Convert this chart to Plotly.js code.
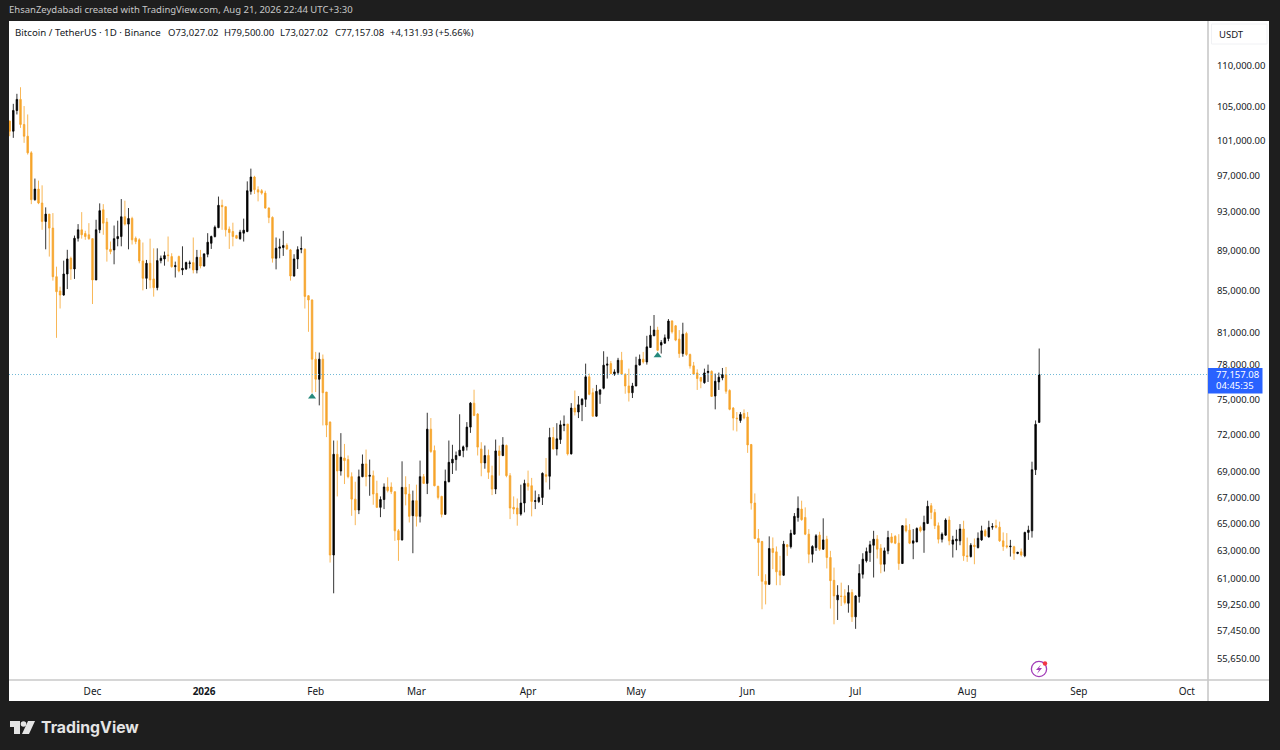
<!DOCTYPE html>
<html>
<head>
<meta charset="utf-8">
<script src="https://cdn.plot.ly/plotly-3.0.1.min.js"></script>
<style>
  html, body { margin: 0; padding: 0; background: #1e1e1e; overflow: hidden; }
  #chart { position: absolute; left: 0; top: 0; width: 1280px; height: 750px; }
  svg.over { position: absolute; left: 0; top: 0; pointer-events: none; }
</style>
</head>
<body>
<div id="chart"></div>
<svg class="over" width="1280" height="750">
  <!-- logo -->
  <path d="M10 721H20V734H14V727H10Z" fill="#e4e4e4"/>
  <circle cx="23.5" cy="724" r="2.8" fill="#e4e4e4"/>
  <path d="M28 721H35L29 734H22Z" fill="#e4e4e4"/>
  <!-- flash icon -->
  <circle cx="1039" cy="669" r="7.6" fill="none" stroke="#a23db8" stroke-width="1.3"/>
  <path d="M1041 664.5L1036 670H1039L1037 674L1042 668H1039Z" fill="#a23db8"/>
  <circle cx="1045" cy="663.5" r="2.2" fill="#f23645"/>
</svg>
<script>
var firstDay = '2025-11-08';
var opens = [103250,102060,104520,105860,102850,101470,99550,94330,95490,93970,
92000,92780,91300,86340,84930,84540,86610,88190,87110,90240,
91120,90730,90600,90200,86020,91120,93250,91930,89100,89040,
90200,90420,92500,91720,92320,90240,90080,87920,86180,87680,
86120,85260,87950,88120,88530,88360,87340,88360,87010,87110,
87650,87750,87010,88290,87410,88600,89720,90420,91350,93720,
93570,91190,90940,90520,90200,90770,90940,95240,96820,95420,
95310,95050,93430,92430,88190,89210,89280,89510,89040,86410,
88120,89100,89100,84470,84060,78530,76740,78530,75620,73050,
62700,70400,69060,70100,69970,68610,66860,66030,68610,69620,
68640,68690,67300,66230,66830,67800,67800,67430,64470,63800,
67770,67250,65600,66740,65550,68610,68080,72460,70700,67850,
67070,65700,68210,69700,69970,70300,70700,71000,72630,74660,
73730,70830,69700,70300,68690,67640,70670,70300,71110,68690,
66230,66180,65720,66560,68080,67900,66680,66680,66990,68770,
68640,71770,70830,71600,72770,72880,70430,74240,73900,74520,
74990,76950,75560,73550,75420,75950,77990,78130,77220,77330,
78430,77190,76150,75560,76150,78000,78530,78280,79590,80670,
81200,79810,79990,80420,82050,81600,80360,79040,80880,78950,
77930,77300,76890,76440,77330,77440,75270,76500,76860,77150,
75750,74240,73390,73190,73780,73480,71190,66560,63900,63680,
60830,60620,63170,62930,61570,61260,63440,63300,64220,65470,
66100,65470,64220,62760,63240,64150,63120,63850,62520,60900,
59550,59820,59820,59320,60050,58400,59780,61330,62280,62880,
63410,63850,63190,62040,63000,64020,64060,63560,62090,64850,
64520,63560,63650,64720,64520,65020,66360,65850,64850,63850,
64150,65270,63490,63730,63730,64600,62640,62590,63410,63240,
63800,64470,64020,64740,64850,64740,63730,63370,63300,63300,
62810,62930,62640,64350,64470,69160,73027.02];
var highs = [103300,105320,106540,107350,105050,104040,99740,96650,96420,95900,
93500,92780,92890,87340,85350,87950,89050,88360,90520,91720,
92990,91020,91820,90240,92180,93930,93850,92360,89900,91570,
92080,94400,94220,93430,92500,90420,90240,89800,88020,90200,
89200,89200,88460,88870,90420,88700,87850,88460,89410,87850,
87950,90320,89040,89040,88700,90770,90520,91570,94670,94340,
93610,91470,91870,90600,91120,92300,96340,97760,96960,95790,
95490,95310,93500,92540,90320,90200,91010,89720,89140,88600,
89410,90420,89210,84540,84120,79190,79130,78950,75620,73110,
71520,71520,72130,71240,70300,68950,68210,69170,70380,70780,
69970,69090,68290,67070,68080,68560,68160,67460,64600,69830,
68640,68030,67520,67980,69890,68820,73840,73390,71110,67900,
67120,69170,71520,71170,70620,73710,71110,73050,74750,75820,
73810,71380,71110,70780,69480,71600,71110,71800,71190,68890,
67070,66910,67980,68370,69090,68510,67520,67250,68950,70100,
72570,72630,72960,73190,73610,72900,74660,75750,75270,75100,
78130,77240,75950,76240,75890,79250,78750,78360,77620,78650,
79190,77240,77680,76420,78750,78950,79190,80670,81600,82620,
81510,80270,80790,82240,82130,81670,81200,81890,81040,79040,
78280,77620,76950,77680,78040,77530,77240,77330,77740,77830,
75860,74330,73900,73900,74130,73900,71240,67300,64600,63730,
61330,64060,63980,63320,62640,63730,63490,64550,65800,67070,
66740,66230,64600,63410,64220,64400,65400,64100,63000,61800,
60560,60740,60280,60560,60280,59870,62040,62830,63240,63730,
64470,64150,63490,63240,64470,64300,64150,64220,64890,65400,
64970,64600,64720,64850,65600,66740,66560,66100,65090,64350,
65400,65550,64100,64550,64970,65220,63970,63560,63900,64350,
64850,64600,65220,65040,65300,65150,64350,64300,63800,63370,
62930,63170,64400,64850,69800,73190,79500];
var lows = [101470,101280,104040,102450,100700,99350,93850,94220,93850,91120,
89100,88360,85950,80480,83240,84470,85120,86020,86120,89900,
90200,90080,90080,83670,86000,90770,90600,87850,88600,87580,
89410,89410,91570,89100,89590,89630,87680,84990,85120,85190,
84380,85000,87680,87440,87850,87240,86260,86770,86500,87010,
87170,86670,86670,87170,87340,88290,89140,90320,91290,91120,
90420,89140,89410,90200,90080,89900,90870,94880,94950,94150,
94880,93360,91820,87750,87070,88190,88430,89040,85950,86340,
87110,88700,83240,81040,75560,75620,74470,72770,71800,62160,
60000,67070,68690,68030,68480,65590,64890,65720,68560,67850,
67120,66430,66180,65490,66100,67380,67250,63730,62280,63750,
66380,65090,62830,64790,65090,68030,67250,70510,67850,66830,
65470,65650,68160,68820,69090,70240,70160,70700,72150,73550,
70300,68640,69240,68430,67170,67250,68690,70240,68560,65340,
65720,64850,65600,65850,67520,65550,66100,66560,66410,68160,
67600,70780,70300,71240,72290,70300,70380,73610,73390,73130,
74330,75340,73500,73500,74600,75860,76800,77190,77040,77130,
77130,75470,74800,75100,76120,77970,78130,78040,79560,80640,
79250,79040,79930,80170,80880,80170,78650,78750,78830,77680,
77130,75800,75950,76340,76500,75190,74130,75800,76650,75470,
74050,72350,72270,72990,73280,70510,66060,63850,61210,58910,
59240,60580,61690,60560,60560,61210,62640,63170,64180,65150,
65220,64150,62110,62160,63000,63000,63070,61740,58960,57900,
58190,59130,59240,58680,58060,57600,59360,61030,62160,62210,
61100,62450,61400,61520,62760,63540,63490,61640,62060,64350,
63490,62400,63630,64350,62860,64970,65340,64600,63540,63610,
64100,63410,62520,63050,63410,62280,62210,62520,62040,63170,
63730,64020,63970,64550,64650,63650,63000,63170,62590,62350,
62760,62590,62540,63800,63970,68740,73027.02];
var closes = [102060,104520,105860,102850,101470,99550,94330,95490,93970,92000,
92780,91300,86340,84860,84540,86610,88120,87110,90240,91120,
90600,90420,90200,86020,91120,93150,91820,89100,88870,90200,
90420,92500,91720,92320,90080,89900,87920,86180,87680,86020,
85260,87950,88190,88460,88460,87340,87440,86910,87170,87750,
87720,87010,88290,87410,88630,89830,90420,91390,93720,93570,
91120,90830,90420,90240,90870,91080,95310,96820,95420,95160,
95050,93430,92430,88190,89210,89350,89490,89140,86410,88120,
89070,89180,84400,84060,78530,76740,78530,75560,72800,62700,
70400,69060,70160,69890,68610,66860,66030,68610,69620,68610,
68710,67250,66230,66830,67800,67520,67430,64470,63800,67770,
67250,65550,66740,65550,68610,68080,72460,70620,67900,66990,
65700,68240,69750,70000,70300,70730,71000,72630,74660,73610,
70980,69700,70300,68950,67640,70670,70300,71160,68690,66180,
66100,65720,66560,68080,67850,66680,66740,66990,68870,68640,
71770,70830,71660,72820,72860,70430,74240,73900,74520,74990,
76950,75420,73550,75680,75800,77990,78080,77240,77390,78430,
77190,76150,75560,76150,77990,78530,78280,79650,80730,81200,
79340,80050,80480,82050,81040,80270,79040,80820,78950,77920,
77190,76800,76560,77300,77440,75240,76560,76920,77150,75680,
74130,73390,73340,73700,73390,71160,66560,63900,63610,60830,
60620,63170,62880,61500,61260,63490,63300,64280,65550,66150,
65300,64220,62760,63320,64100,63120,63800,62520,60880,59820,
59870,59780,59360,60050,58400,59820,61380,62400,62950,63440,
63850,63120,62040,63000,63970,63610,63560,62090,64850,64470,
63560,63730,64650,64470,65090,66310,65850,64850,63850,64220,
65270,63730,63800,63850,64600,62640,62590,63410,63320,63920,
64470,64100,64720,64790,64740,63730,63320,63300,63340,62830,
62900,62700,64350,64520,69160,72860,77157.08];

var lastPrice = 77157.08;
var signalDates = ['2026-01-31', '2026-05-07'];
var signalPrices = [75200, 78860];

var priceTicks = [110000,105000,101000,97000,93000,89000,85000,81000,78000,75000,72000,69000,67000,65000,63000,61000,59250,57450,55650];
var priceLabels = ['110,000.00','105,000.00','101,000.00','97,000.00','93,000.00','89,000.00','85,000.00','81,000.00','78,000.00','75,000.00','72,000.00','69,000.00','67,000.00','65,000.00','63,000.00','61,000.00','59,250.00','57,450.00','55,650.00'];
var monthTicks = ['2025-12-01','2026-01-01','2026-02-01','2026-03-01','2026-04-01','2026-05-01','2026-06-01','2026-07-01','2026-08-01','2026-09-01','2026-10-01'];
var monthLabels = ['Dec','<b>2026</b>','Feb','Mar','Apr','May','Jun','Jul','Aug','Sep','Oct'];

var days = [];
for (var i = 0; i < closes.length; i++) {
  var d = new Date(Date.parse(firstDay + 'T00:00:00Z') + i * 86400000);
  days.push(d.toISOString().slice(0, 10));
}

var startX = '2025-11-07 19:20', endX = '2026-10-06 21:30';
var mainFont = 'Noto Sans, sans-serif';

// page pixels to paper coordinates, plot box is 9..1208 by 21..679
function px(x) { return (x - 9) / 1199; }
function py(y) { return (679 - y) / 658; }

function label(x, y, text, size, color, extra) {
  var a = {xref: 'paper', yref: 'paper', x: px(x), y: py(y), text: text, showarrow: false,
    xanchor: 'left', yanchor: 'middle', align: 'left', borderpad: 0,
    font: {family: mainFont, size: size, color: color}};
  for (var k in extra) a[k] = extra[k];
  return a;
}

var traces = [{
  type: 'scatter', mode: 'lines', x: [startX, endX], y: [lastPrice, lastPrice],
  line: {color: '#6fb8d6', width: 1, dash: '1px,2px'}, hoverinfo: 'skip', showlegend: false
}, {
  type: 'candlestick', x: days, open: opens, high: highs, low: lows, close: closes,
  increasing: {line: {color: '#000000', width: 0.8}, fillcolor: '#000000'},
  decreasing: {line: {color: '#f6a52c', width: 0.8}, fillcolor: '#f6a52c'},
  whiskerwidth: 0, showlegend: false
}, {
  type: 'scatter', mode: 'markers', x: signalDates, y: signalPrices,
  marker: {symbol: 'triangle-up', size: 7, color: '#25897c'}, hoverinfo: 'skip', showlegend: false
}];

var layout = {
  width: 1280, height: 750,
  margin: {l: 9, r: 72, t: 21, b: 71, pad: 0},
  paper_bgcolor: '#1e1e1e', plot_bgcolor: '#ffffff',
  showlegend: false, boxgap: 0.4,
  font: {family: mainFont, size: 9.5, color: '#131722'},
  xaxis: {
    type: 'date', range: [startX, endX], rangeslider: {visible: false},
    tickmode: 'array', tickvals: monthTicks, ticktext: monthLabels,
    showgrid: false, zeroline: false, showline: false,
    ticks: 'outside', ticklen: 3, tickcolor: 'rgba(0,0,0,0)',
    tickfont: {family: mainFont, size: 10, color: '#131722'}
  },
  yaxis: {
    type: 'log', side: 'right', range: [Math.log10(54372), Math.log10(115840)],
    tickmode: 'array', tickvals: priceTicks, ticktext: priceLabels,
    showgrid: false, zeroline: false, showline: false,
    ticks: 'outside', ticklen: 6, tickcolor: 'rgba(0,0,0,0)',
    tickfont: {family: mainFont, size: 9.5, color: '#131722'}
  },
  shapes: [
    {type: 'rect', layer: 'below', xref: 'paper', yref: 'paper', x0: px(1208), x1: px(1269), y0: py(701), y1: py(21), fillcolor: '#ffffff', line: {width: 0}},
    {type: 'rect', layer: 'below', xref: 'paper', yref: 'paper', x0: px(9), x1: px(1208), y0: py(701), y1: py(679), fillcolor: '#ffffff', line: {width: 0}},
    {type: 'line', xref: 'paper', yref: 'paper', x0: px(1208), x1: px(1208), y0: py(701), y1: py(21), line: {color: '#c4c4c4', width: 1.5}},
    {type: 'line', xref: 'paper', yref: 'paper', x0: px(9), x1: px(1269), y0: py(680), y1: py(680), line: {color: '#c8c8c8', width: 1.5}},
    {type: 'rect', xref: 'paper', yref: 'paper', x0: px(1211.5), x1: px(1267), y0: py(44), y1: py(24), fillcolor: '#ffffff', line: {color: '#f0f1f4', width: 1}},
    {type: 'rect', xref: 'paper', yref: 'paper', x0: px(1208), x1: px(1262.5), y0: py(393.5), y1: py(368), fillcolor: '#2962ff', line: {width: 0}}
  ],
  annotations: [
    label(8, 10, 'EhsanZeydabadi created with TradingView.com, Aug 21, 2026 22:44 UTC+3:30', 9.5, '#c9c9c9'),
    label(14, 32, 'Bitcoin / TetherUS · 1D · Binance', 9.7, '#131722'),
    label(167, 32, 'O73,027.02', 9.5, '#131722'),
    label(223, 32, 'H79,500.00', 9.5, '#131722'),
    label(279, 32, 'L73,027.02', 9.5, '#131722'),
    label(334, 32, 'C77,157.08', 9.5, '#131722'),
    label(388.5, 32, '+4,131.93 (+5.66%)', 9.5, '#131722'),
    label(1217.5, 34.5, 'USDT', 9.5, '#131722'),
    label(1215, 374.5, '77,157.08', 9.5, '#ffffff'),
    label(1215, 386, '04:45:35', 9.5, '#ffffff'),
    label(39.5, 727, '<b>TradingView</b>', 15.8, '#e4e4e4', {font: {family: 'Inter, sans-serif', size: 15.8, color: '#e4e4e4'}})
  ]
};

Plotly.newPlot('chart', traces, layout, {displayModeBar: false, staticPlot: true});
</script>
</body>
</html>
